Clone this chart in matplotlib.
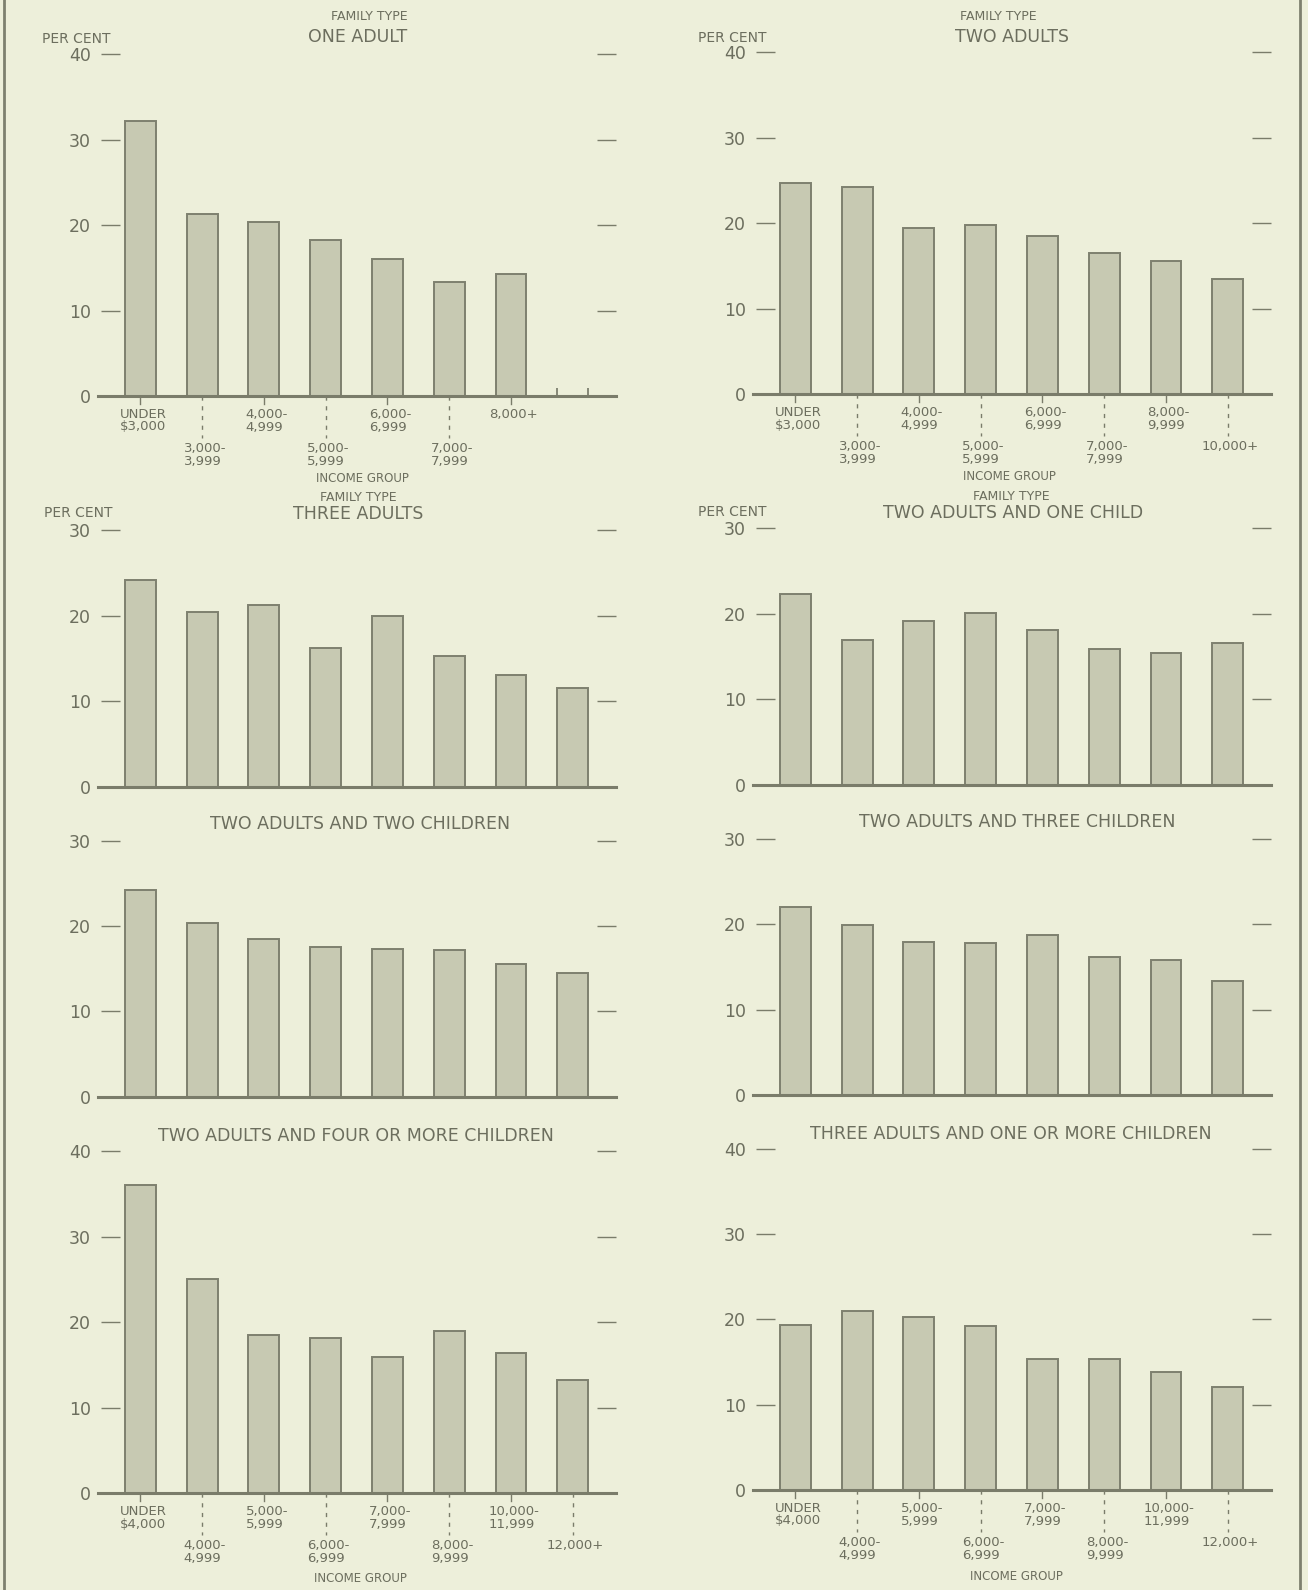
import matplotlib
matplotlib.use("Agg")
import matplotlib.pyplot as plt
from matplotlib.lines import Line2D

W, H = 1308, 1590
DPI = 100

BG = "#edefda"
BAR = "#c7c9b2"
EDGE = "#7e806f"
TXT = "#6c6e5e"
AXC = "#7a7c6a"

plt.rcParams['font.family'] = ['DejaVu Sans']

# ---------------- data ----------------
labels_top_left = ["UNDER\n$3,000", "3,000-\n3,999", "4,000-\n4,999", "5,000-\n5,999",
                   "6,000-\n6,999", "7,000-\n7,999", "8,000+"]
labels_top_right = ["UNDER\n$3,000", "3,000-\n3,999", "4,000-\n4,999", "5,000-\n5,999",
                    "6,000-\n6,999", "7,000-\n7,999", "8,000-\n9,999", "10,000+"]
labels_bottom = ["UNDER\n$4,000", "4,000-\n4,999", "5,000-\n5,999", "6,000-\n6,999",
                 "7,000-\n7,999", "8,000-\n9,999", "10,000-\n11,999", "12,000+"]

one_adult = [32.2, 21.3, 20.4, 18.3, 16.0, 13.3, 14.3]
two_adults = [24.7, 24.3, 19.5, 19.8, 18.5, 16.5, 15.6, 13.5]
three_adults = [24.2, 20.4, 21.2, 16.2, 20.0, 15.3, 13.0, 11.5]
two_adults_one_child = [22.3, 17.0, 19.2, 20.1, 18.1, 15.9, 15.4, 16.6]
two_adults_two_children = [24.2, 20.3, 18.5, 17.5, 17.3, 17.2, 15.6, 14.5]
two_adults_three_children = [22.0, 19.9, 17.9, 17.8, 18.7, 16.1, 15.8, 13.4]
two_adults_four_children = [36.1, 25.1, 18.5, 18.2, 16.0, 19.0, 16.4, 13.3]
three_adults_children = [19.3, 21.0, 20.3, 19.2, 15.3, 15.3, 13.8, 12.1]

titles = ["ONE ADULT", "TWO ADULTS", "THREE ADULTS", "TWO ADULTS AND ONE CHILD",
          "TWO ADULTS AND TWO CHILDREN", "TWO ADULTS AND THREE CHILDREN",
          "TWO ADULTS AND FOUR OR MORE CHILDREN", "THREE ADULTS AND ONE OR MORE CHILDREN"]

fig = plt.figure(figsize=(W / DPI, H / DPI), dpi=DPI, facecolor=BG)


def fx(px):
    return px / W


def fy(py):
    return 1 - py / H


# panel layout in pixels: left, baseline y, top y, ymax
panels = [
    dict(vals=one_adult, title=titles[0], left=120, base=396.0, top=54.3, ymax=40,
         labels=labels_top_left, fam=True, pc=True, ig=True, stub=True,
         tpos=(358, 37.5), fpos=(369, 17), ppos=(76, 39), igpos=(362, 478)),
    dict(vals=two_adults, title=titles[1], left=775, base=394.3, top=52.3, ymax=40,
         labels=labels_top_right, fam=True, pc=True, ig=True, stub=False,
         tpos=(1012, 37), fpos=(998, 17), ppos=(732, 38.5), igpos=(1009.5, 476)),
    dict(vals=three_adults, title=titles[2], left=120, base=786.7, top=530.0, ymax=30,
         labels=None, fam=True, pc=True, ig=False, stub=False,
         tpos=(358, 514), fpos=(358, 497.5), ppos=(78.7, 512.7), igpos=None),
    dict(vals=two_adults_one_child, title=titles[3], left=775, base=785.0, top=528.3, ymax=30,
         labels=None, fam=True, pc=True, ig=False, stub=False,
         tpos=(1012.6, 512.7), fpos=(1011, 496.7), ppos=(732, 512.3), igpos=None),
    dict(vals=two_adults_two_children, title=titles[4], left=120, base=1096.7, top=840.7, ymax=30,
         labels=None, fam=False, pc=False, ig=False, stub=False,
         tpos=(360, 824), fpos=None, ppos=None, igpos=None),
    dict(vals=two_adults_three_children, title=titles[5], left=775, base=1095.0, top=838.7, ymax=30,
         labels=None, fam=False, pc=False, ig=False, stub=False,
         tpos=(1017, 821.7), fpos=None, ppos=None, igpos=None),
    dict(vals=two_adults_four_children, title=titles[6], left=120, base=1493.3, top=1151.3, ymax=40,
         labels=labels_bottom, fam=False, pc=False, ig=True, stub=False,
         tpos=(356, 1136), fpos=None, ppos=None, igpos=(360, 1579)),
    dict(vals=three_adults_children, title=titles[7], left=775, base=1490.0, top=1148.7, ymax=40,
         labels=labels_bottom, fam=False, pc=False, ig=True, stub=False,
         tpos=(1011.3, 1134), fpos=None, ppos=None, igpos=(1016.6, 1577)),
]

XMIN, XMAX = -0.33, 7.70
AX_W = 496
BAR_W = 0.5

for p in panels:
    hpx = p['base'] - p['top']
    ax = fig.add_axes([fx(p['left']), fy(p['base']), fx(AX_W), hpx / H])
    ax.set_facecolor('none')
    vals = p['vals']
    xs = list(range(len(vals)))
    ax.bar(xs, vals, width=BAR_W, color=BAR, edgecolor=EDGE, linewidth=1.4, zorder=2)
    ax.set_xlim(XMIN, XMAX)
    ax.set_ylim(0, p['ymax'])
    for s in ax.spines.values():
        s.set_visible(False)
    # baseline extending left under the zero tick
    ax.axhline(0, xmin=-0.045, xmax=1.0, color=AXC, lw=2.2, clip_on=False, zorder=3)
    yt = list(range(0, p['ymax'] + 1, 10))
    ax.set_yticks(yt)
    ax.set_yticklabels([str(v) for v in yt])
    ax.tick_params(axis='y', direction='out', length=14, width=1.0, color=AXC,
                   labelcolor=TXT, labelsize=12.5, pad=7)
    ax.set_xticks([])
    sec = ax.secondary_yaxis('right')
    sec.set_yticks([v for v in yt if v > 0])
    sec.tick_params(direction='in', length=14, width=1.0, color=AXC, labelright=False)
    for s in sec.spines.values():
        s.set_visible(False)

    if p['stub']:
        n = len(vals)
        ax.vlines([n - BAR_W / 2, n + BAR_W / 2], 0, 0.9, color=EDGE, lw=1.3, zorder=2)

    if p['labels'] is not None:
        xt = ax.get_xaxis_transform()
        for i, lab in enumerate(p['labels']):
            if i % 2 == 0:
                ax.plot([i, i], [0, -8 / hpx], transform=xt, color=AXC, lw=1.0,
                        clip_on=False)
                off = 12
            else:
                ax.plot([i, i], [0, -42 / hpx], transform=xt, color=AXC, lw=1.0,
                        linestyle=(0, (3, 4)), clip_on=False)
                off = 46
            ax.annotate(lab, xy=(i, 0), xycoords=xt, xytext=(2, -off * 0.72),
                        textcoords='offset points', ha='center', va='top',
                        fontsize=9.5, color=TXT, linespacing=0.95,
                        multialignment='left', annotation_clip=False)

    tx, ty = p['tpos']
    fig.text(fx(tx), fy(ty), p['title'], ha='center', va='center', fontsize=12.5, color=TXT)
    if p['fam']:
        x, y = p['fpos']
        fig.text(fx(x), fy(y), "FAMILY TYPE", ha='center', va='center', fontsize=9, color=TXT)
    if p['pc']:
        x, y = p['ppos']
        fig.text(fx(x), fy(y), "PER CENT", ha='center', va='center', fontsize=10, color=TXT)
    if p['ig']:
        x, y = p['igpos']
        fig.text(fx(x), fy(y), "INCOME GROUP", ha='center', va='center', fontsize=8.5, color=TXT)

# page border lines
fig.add_artist(Line2D([fx(4), fx(4)], [0, 1], transform=fig.transFigure, color=EDGE, lw=2.0))
fig.add_artist(Line2D([fx(1300), fx(1300)], [0, 1], transform=fig.transFigure, color=EDGE, lw=2.0))

fig.savefig("out.png", dpi=DPI, facecolor=BG)
